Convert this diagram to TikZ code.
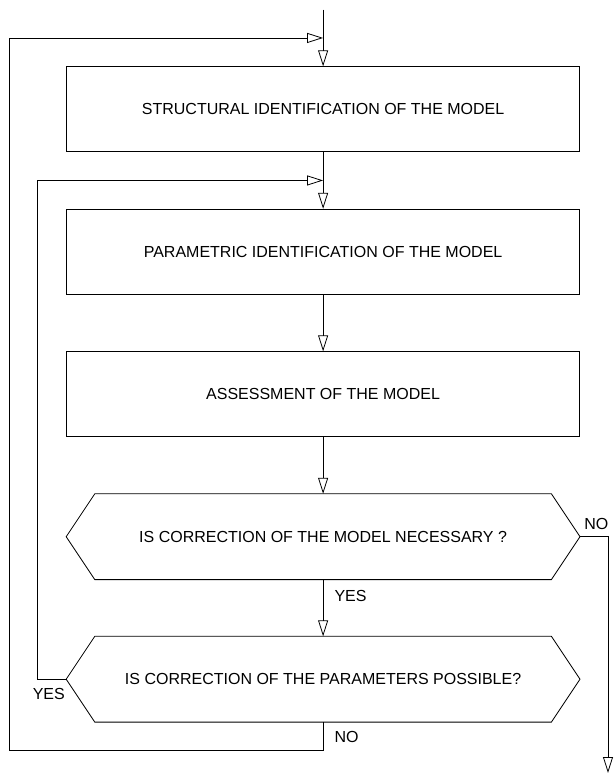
\documentclass[tikz,border=0pt]{standalone}
\usepackage{fontspec}
\setmainfont{Liberation Sans}
\usetikzlibrary{arrows.meta,positioning}

\begin{document}
\begin{tikzpicture}[x=1pt,y=-1pt,
 node distance=56.7pt,
 line width=0.8pt,
 font=\fontsize{16}{19}\selectfont,
 box/.style={draw,minimum width=513pt,minimum height=85pt,inner sep=0pt},
 quest/.style={minimum width=513pt,minimum height=85pt,inner sep=0pt},
 lbl/.style={inner sep=1pt},
 arr/.style={-{Triangle[open,length=16pt,width=10pt]}}]
\useasboundingbox (0,0) rectangle (614,774);
\node[box] (struct) at (323.1,109.2) {STRUCTURAL IDENTIFICATION OF THE MODEL};
\node[box,below=of struct] (param) {PARAMETRIC IDENTIFICATION OF THE MODEL};
\node[box,below=of param] (assess) {ASSESSMENT OF THE MODEL};
\node[quest,below=of assess] (needcorr) {IS CORRECTION OF THE MODEL NECESSARY ?};
\node[quest,below=of needcorr] (paramcorr) {IS CORRECTION OF THE PARAMETERS POSSIBLE?};
% hexagon outlines
\foreach \q in {needcorr,paramcorr}
  \draw (\q.west) -- ([xshift=28.6pt]\q.north west) -- ([xshift=-28.6pt]\q.north east)
    -- (\q.east) -- ([xshift=-28.6pt]\q.south east) -- ([xshift=28.6pt]\q.south west) -- cycle;
% junctions
\coordinate[above=of struct] (start);
\coordinate[above=28.35pt of struct] (join1);
\coordinate[above=28.35pt of param] (join2);
\coordinate[below=28.35pt of paramcorr] (back);
\coordinate (out) at (608,773);
% labels
\node[lbl,anchor=west] (yes1) at ([xshift=10pt,yshift=-16pt]needcorr.south) {YES};
\node[lbl,anchor=west] (no1) at ([xshift=3pt,yshift=13pt]needcorr.east) {NO};
\node[lbl,anchor=east] (yes2) at ([yshift=-15pt]paramcorr.west) {YES};
\node[lbl,anchor=west] (no2) at ([xshift=10pt,yshift=-15pt]paramcorr.south) {NO};
% connectors
\draw[arr] (start) -- (struct);
\draw[arr] (struct) -- (param);
\draw[arr] (param) -- (assess);
\draw[arr] (assess) -- (needcorr);
\draw[arr] (needcorr) -- (paramcorr);
\draw[arr] (needcorr.east) -- (needcorr.east -| out) -- (out);
\draw[arr] (paramcorr.west) -- ++(-28.6,0) |- (join2);
\draw[arr] (paramcorr) -- (back) -- ++(-313.3,0) |- (join1);
\end{tikzpicture}
\end{document}
